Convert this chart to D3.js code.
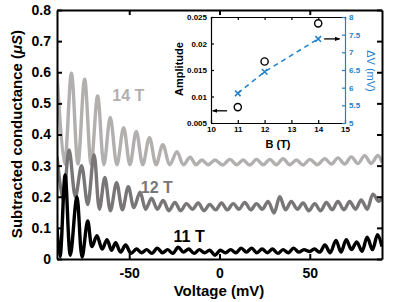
<!DOCTYPE html>
<html>
<head>
<meta charset="utf-8">
<script src="https://cdn.jsdelivr.net/npm/d3@7"></script>
<style>
body { margin: 0; background: #fff; }
text { font-family: "Liberation Sans", Arial, sans-serif; }
</style>
</head>
<body>
<svg id="chart" width="396" height="302"></svg>
<script>
// main traces: voltage (mV) and subtracted conductance (uS), read at peaks / troughs
var v14 = [-90, -85.8, -82, -78.4, -74.7, -71.1, -67.5, -64, -60.5, -56.8, -53.1, -49.6, -46.1, -42.5, -38.8, -35.1, -31.4, -27.5, -23.6, -20, -16.3, -13, -9.8, -6.2, -2.5, 1.7, 5.8, 9.5, 13.1, 16.8, 20.5, 24.2, 27.9, 31.5, 35.2, 38.9, 42.6, 46.3, 50, 54.2, 58.3, 62, 65.6, 69.3, 73, 76.7, 80.4, 84, 87.7, 90];
var s14 = [0.595, 0.305, 0.597, 0.305, 0.578, 0.305, 0.524, 0.303, 0.455, 0.303, 0.422, 0.303, 0.41, 0.303, 0.39, 0.303, 0.367, 0.303, 0.345, 0.303, 0.327, 0.303, 0.318, 0.303, 0.318, 0.302, 0.32, 0.303, 0.318, 0.302, 0.32, 0.303, 0.32, 0.303, 0.322, 0.303, 0.318, 0.302, 0.32, 0.303, 0.322, 0.305, 0.325, 0.305, 0.328, 0.307, 0.332, 0.307, 0.333, 0.31];

var v12 = [-90, -86.6, -83.3, -79.8, -76.4, -73, -69.5, -66.5, -63.5, -60.4, -57, -53.8, -50.5, -47.4, -44, -40.9, -37.6, -34.4, -31.2, -28, -24.7, -21.5, -18.3, -15, -11.8, -8.6, -5.4, -2.1, 1.1, 4.3, 7.6, 10.8, 14, 17.3, 20.5, 23.7, 26.9, 30.2, 33.4, 36.6, 39.8, 43.1, 46.3, 49.5, 52.7, 56, 59.2, 62.4, 65.6, 68.9, 72.1, 75.3, 78.5, 81.8, 85, 88.2, 90];
var s12 = [0.33, 0.19, 0.35, 0.2, 0.3, 0.175, 0.335, 0.16, 0.262, 0.155, 0.245, 0.158, 0.232, 0.165, 0.215, 0.16, 0.195, 0.16, 0.188, 0.155, 0.182, 0.155, 0.178, 0.16, 0.18, 0.155, 0.175, 0.158, 0.18, 0.158, 0.178, 0.16, 0.182, 0.158, 0.178, 0.16, 0.185, 0.148, 0.2, 0.158, 0.185, 0.16, 0.18, 0.155, 0.178, 0.155, 0.182, 0.158, 0.185, 0.158, 0.185, 0.16, 0.19, 0.16, 0.208, 0.185, 0.2];

var v11 = [-90, -88.3, -85.5, -82.6, -79, -76.1, -73, -70.6, -67.9, -65, -62.3, -59.8, -57.5, -54.8, -52, -49, -46, -43.2, -40.3, -37.4, -34.5, -31.6, -28.7, -25.8, -22.9, -20, -17, -14.1, -11.2, -8.3, -5.4, -2.5, 0.4, 3.3, 6.2, 9.1, 12, 14.9, 17.8, 20.7, 23.6, 26.5, 29.4, 32.3, 35.2, 38.1, 41, 43.9, 46.8, 49.7, 52.6, 55.5, 58.4, 61.3, 64.5, 67.3, 70.2, 73.1, 76, 78.9, 81.8, 84.7, 87.5, 90];
var s11 = [0.1, 0.008, 0.27, 0.012, 0.2, 0.006, 0.122, 0.04, 0.075, 0.032, 0.062, 0.028, 0.052, 0.022, 0.045, 0.018, 0.032, 0.02, 0.03, 0.018, 0.035, 0.02, 0.03, 0.018, 0.038, 0.022, 0.032, 0.018, 0.03, 0.02, 0.028, 0.012, 0.028, 0.02, 0.03, 0.02, 0.035, 0.022, 0.035, 0.02, 0.032, 0.02, 0.032, 0.018, 0.03, 0.02, 0.035, 0.022, 0.03, 0.024, 0.032, 0.022, 0.045, 0.02, 0.06, 0.022, 0.062, 0.03, 0.055, 0.025, 0.07, 0.03, 0.078, 0.04];

var xTicks = [-50, 0, 50];
var yTicks = [0, 0.1, 0.2, 0.3, 0.4, 0.5, 0.6, 0.7, 0.8];
var yTickLabels = ["0", "0.1", "0.2", "0.3", "0.4", "0.5", "0.6", "0.7", "0.8"];

// inset: field, oscillation amplitude and period
var fields = [11, 12, 14];
var amplitude = [0.0080, 0.0166, 0.0238];
var deltaV = [5.84, 6.45, 7.38];
var bTicks = [10, 11, 12, 13, 14, 15];
var ampTicks = [0.005, 0.01, 0.015, 0.02, 0.025];
var ampTickLabels = ["0.005", "0.01", "0.015", "0.02", "0.025"];
var dvTicks = [5, 5.5, 6, 6.5, 7, 7.5, 8];

var svg = d3.select("#chart");
var blue = "#1f80cc";

var x = d3.scaleLinear().domain([-90, 90]).range([57, 382]);
var y = d3.scaleLinear().domain([0, 0.8]).range([259, 10]);

svg.append("defs").append("clipPath").attr("id", "plotclip")
	.append("rect").attr("x", 57).attr("y", 10).attr("width", 325).attr("height", 249);

var line = d3.line()
	.x(function(d){ return x(d[0]); })
	.y(function(d){ return y(d[1]); })
	.curve(d3.curveCatmullRom.alpha(0.5));

function drawTrace(v, s, color){
	svg.append("path")
	.datum(d3.zip(v, s))
	.attr("d", line)
	.attr("clip-path", "url(#plotclip)")
	.style("fill", "none")
	.style("stroke", color)
	.style("stroke-width", 3.4)
	.style("stroke-linejoin", "round");
}

drawTrace(v14, s14, "#b2afaf");
drawTrace(v12, s12, "#787676");
drawTrace(v11, s11, "#000");

// curve labels
svg.append("text").attr("x", x(-50.5)).attr("y", y(0.508)).attr("text-anchor", "middle")
	.style("font-size", "16px").style("font-weight", "bold").style("fill", "#b2afaf").text("14 T");
svg.append("text").attr("x", x(-34.7)).attr("y", y(0.211)).attr("text-anchor", "middle")
	.style("font-size", "16px").style("font-weight", "bold").style("fill", "#787676").text("12 T");
svg.append("text").attr("x", x(-16.8)).attr("y", y(0.054)).attr("text-anchor", "middle")
	.style("font-size", "16px").style("font-weight", "bold").style("fill", "#000").text("11 T");

// main axes, ticks pointing in on all four sides
function styleAxis(g, size){
	g.selectAll("path").style("stroke", "#000").style("stroke-width", 2);
	g.selectAll("line").style("stroke", "#000").style("stroke-width", 2);
	g.selectAll("text").style("font-size", size).style("font-weight", "bold")
	.style("font-family", "'Liberation Sans', Arial, sans-serif").style("fill", "#000");
}

var gx = svg.append("g").attr("transform", "translate(0,259)")
	.call(d3.axisBottom(x).tickValues(xTicks).tickSizeInner(-5).tickSizeOuter(0).tickPadding(9)
	.tickFormat(function(d){ return String(d); }));
styleAxis(gx, "14px");
var gy = svg.append("g").attr("transform", "translate(57,0)")
	.call(d3.axisLeft(y).tickValues(yTicks).tickSizeInner(-5).tickSizeOuter(0).tickPadding(6)
	.tickFormat(function(d, i){ return yTickLabels[i]; }));
styleAxis(gy, "14px");
var gt = svg.append("g").attr("transform", "translate(0,10)")
	.call(d3.axisTop(x).tickValues(xTicks).tickSizeInner(-5).tickSizeOuter(0).tickFormat(""));
styleAxis(gt, "14px");
var gr = svg.append("g").attr("transform", "translate(382,0)")
	.call(d3.axisRight(y).tickValues(yTicks).tickSizeInner(-5).tickSizeOuter(0).tickFormat(""));
styleAxis(gr, "14px");

svg.append("text").attr("x", 219).attr("y", 296).attr("text-anchor", "middle")
	.style("font-size", "15px").style("font-weight", "bold").text("Voltage (mV)");
var ylab = svg.append("text").attr("transform", "translate(22,134) rotate(-90)")
	.attr("text-anchor", "middle").style("font-size", "15px").style("font-weight", "bold");
ylab.append("tspan").text("Subtracted conductance (");
ylab.append("tspan").style("font-style", "italic").text("\u03bcS");
ylab.append("tspan").text(")");

// inset
var bx = d3.scaleLinear().domain([10, 15]).range([211, 345]);
var ay = d3.scaleLinear().domain([0.005, 0.025]).range([123, 17]);
var dv = d3.scaleLinear().domain([5, 8]).range([123, 17]);

svg.append("rect").attr("x", 211).attr("y", 17).attr("width", 134).attr("height", 106).style("fill", "#fff");

function styleInset(g, color){
	g.selectAll("path").style("stroke", color).style("stroke-width", 1.2);
	g.selectAll("line").style("stroke", color).style("stroke-width", 1.2);
	g.selectAll("text").style("font-size", "8px").style("font-weight", "bold")
	.style("font-family", "'Liberation Sans', Arial, sans-serif").style("fill", color);
}

var ib = svg.append("g").attr("transform", "translate(0,123)")
	.call(d3.axisBottom(bx).tickValues(bTicks).tickSizeInner(-3).tickSizeOuter(0).tickPadding(3)
	.tickFormat(function(d){ return String(d); }));
styleInset(ib, "#000");
var it = svg.append("g").attr("transform", "translate(0,17)")
	.call(d3.axisTop(bx).tickValues(bTicks).tickSizeInner(-3).tickSizeOuter(0).tickFormat(""));
styleInset(it, "#000");
var il = svg.append("g").attr("transform", "translate(211,0)")
	.call(d3.axisLeft(ay).tickValues(ampTicks).tickSizeInner(-3).tickSizeOuter(0).tickPadding(4)
	.tickFormat(function(d, i){ return ampTickLabels[i]; }));
styleInset(il, "#000");
var ir = svg.append("g").attr("transform", "translate(345,0)")
	.call(d3.axisRight(dv).tickValues(dvTicks).tickSizeInner(-3).tickSizeOuter(0).tickPadding(4)
	.tickFormat(function(d){ return String(d); }));
styleInset(ir, blue);

svg.append("text").attr("x", 278).attr("y", 148).attr("text-anchor", "middle")
	.style("font-size", "11px").style("font-weight", "bold").text("B (T)");
svg.append("text").attr("transform", "translate(183,69) rotate(-90)").attr("text-anchor", "middle")
	.style("font-size", "11px").style("font-weight", "bold").text("Amplitude");
svg.append("text").attr("transform", "translate(367,71) rotate(90)").attr("text-anchor", "middle")
	.style("font-size", "11px").style("fill", blue).text("\u0394V (mV)");

// dashed line through the period points
svg.append("path")
	.datum(d3.zip(fields, deltaV))
	.attr("d", d3.line().x(function(d){ return bx(d[0]); }).y(function(d){ return dv(d[1]); }))
	.style("fill", "none").style("stroke", blue).style("stroke-width", 1.5)
	.style("stroke-dasharray", "5,4");

svg.selectAll(".dvmark").data(d3.zip(fields, deltaV)).enter()
	.append("path").attr("class", "dvmark")
	.attr("d", d3.symbol().type(d3.symbolX).size(22))
	.attr("transform", function(d){ return "translate(" + bx(d[0]) + "," + dv(d[1]) + ")"; })
	.style("stroke", blue).style("stroke-width", 1.6).style("fill", "none");

svg.selectAll(".ampmark").data(d3.zip(fields, amplitude)).enter()
	.append("circle").attr("class", "ampmark")
	.attr("cx", function(d){ return bx(d[0]); })
	.attr("cy", function(d){ return ay(d[1]); })
	.attr("r", 3.6)
	.style("fill", "#fff").style("stroke", "#000").style("stroke-width", 1.4);

// arrows pointing to each axis
svg.append("defs").append("marker").attr("id", "head")
	.attr("viewBox", "0 0 10 10").attr("refX", 9).attr("refY", 5)
	.attr("markerWidth", 4).attr("markerHeight", 4).attr("orient", "auto")
	.append("path").attr("d", "M0,1L10,5L0,9Z").style("fill", "#000");

svg.append("line").attr("x1", bx(10.6)).attr("x2", bx(10.06)).attr("y1", ay(0.0073)).attr("y2", ay(0.0073))
	.style("stroke", "#000").style("stroke-width", 1.3).attr("marker-end", "url(#head)");
svg.append("line").attr("x1", bx(14.22)).attr("x2", bx(14.8)).attr("y1", dv(7.38)).attr("y2", dv(7.38))
	.style("stroke", "#000").style("stroke-width", 1.3).attr("marker-end", "url(#head)");
</script>
</body>
</html>
